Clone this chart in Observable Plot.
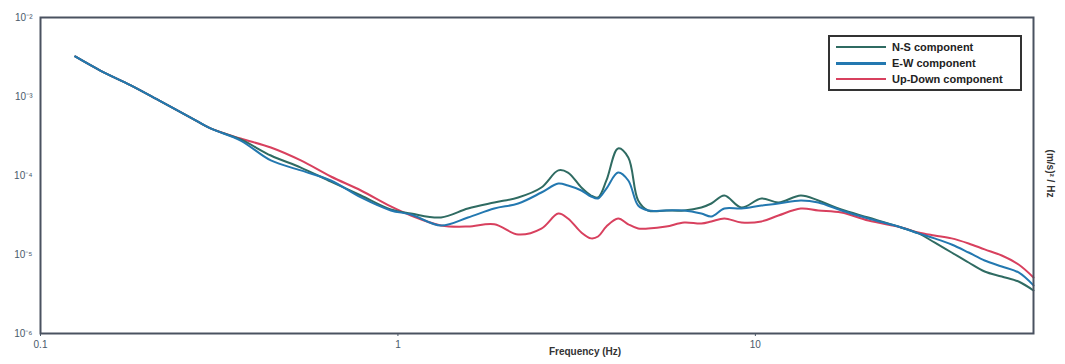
<!DOCTYPE html>
<html><head><meta charset="utf-8">
<script src="https://cdn.jsdelivr.net/npm/d3@7"></script>
<script src="https://cdn.jsdelivr.net/npm/@observablehq/plot@0.6"></script>
<style>
body{margin:0;background:#fff;font-family:"Liberation Sans",Arial,sans-serif}
#wrap{position:relative;width:1065px;height:364px;overflow:hidden}
#legend{position:absolute;left:828px;top:35px;width:190px;height:50px;border:2px solid #333;background:#fff;font-size:11px;font-weight:bold;color:#222}
#legend .row{display:flex;align-items:center;height:16px;padding-left:6px}
#legend .sw{width:50px;height:0;margin-right:6px}
#xlabel{position:absolute;left:545px;top:346px;width:80px;text-align:center;font-size:10px;font-weight:bold;color:#333}
#ylabel{position:absolute;left:1010px;top:168px;width:80px;text-align:center;font-size:10px;font-weight:bold;color:#333;transform:rotate(90deg)}
</style></head><body><div id="wrap"></div>
<script>
const frequency = [0.125,0.147,0.179,0.217,0.263,0.299,0.363,0.441,0.535,0.649,0.788,0.955,1.087,1.32,1.57,1.86,2.17,2.52,2.81,2.99,3.26,3.47,3.63,3.83,4.13,4.41,4.70,5.01,5.63,6.32,7.06,7.53,8.19,9.14,10.4,11.6,13.4,15.0,17.4,20.7,25.6,28.6,31.7,35.4,39.5,43.8,48.9,54.5,60];
const nsValues = [3.21e-3,2.13e-3,1.38e-3,8.65e-4,5.42e-4,3.94e-4,2.86e-4,1.79e-4,1.26e-4,8.39e-5,5.58e-5,3.71e-5,3.30e-5,2.94e-5,3.82e-5,4.55e-5,5.27e-5,7.05e-5,1.16e-4,1.09e-4,7.05e-5,5.58e-5,5.27e-5,8.65e-5,2.20e-4,1.69e-4,4.83e-5,3.61e-5,3.61e-5,3.61e-5,3.94e-5,4.42e-5,5.58e-5,3.94e-5,5.12e-5,4.55e-5,5.58e-5,4.83e-5,3.71e-5,2.94e-5,2.20e-5,1.85e-5,1.42e-5,1.06e-5,7.92e-6,6.09e-6,5.27e-6,4.55e-6,3.50e-6];
const ewValues = [3.21e-3,2.13e-3,1.38e-3,8.65e-4,5.42e-4,3.94e-4,2.77e-4,1.55e-4,1.16e-4,8.65e-5,5.27e-5,3.61e-5,3.21e-5,2.33e-5,2.94e-5,3.82e-5,4.42e-5,6.09e-5,7.92e-5,7.47e-5,6.46e-5,5.42e-5,5.12e-5,6.84e-5,1.09e-4,8.65e-5,4.17e-5,3.61e-5,3.61e-5,3.61e-5,3.30e-5,3.03e-5,3.82e-5,3.82e-5,4.17e-5,4.42e-5,4.83e-5,4.55e-5,3.61e-5,2.86e-5,2.20e-5,1.85e-5,1.60e-5,1.34e-5,1.06e-5,8.39e-6,7.05e-6,5.92e-6,4.06e-6];
const udValues = [3.21e-3,2.13e-3,1.38e-3,8.65e-4,5.42e-4,3.94e-4,2.94e-4,2.26e-4,1.55e-4,9.71e-5,6.46e-5,4.06e-5,3.12e-5,2.33e-5,2.26e-5,2.41e-5,1.79e-5,2.13e-5,3.30e-5,2.86e-5,1.90e-5,1.60e-5,1.69e-5,2.26e-5,2.86e-5,2.41e-5,2.13e-5,2.13e-5,2.26e-5,2.54e-5,2.47e-5,2.62e-5,2.86e-5,2.54e-5,2.62e-5,3.12e-5,3.82e-5,3.61e-5,3.40e-5,2.69e-5,2.20e-5,1.90e-5,1.74e-5,1.60e-5,1.38e-5,1.16e-5,9.71e-6,7.47e-6,5.12e-6];
const seriesNames = ["N-S component","E-W component","Up-Down component"];
const seriesColors = ["#2f6b62","#2378b0","#d8405e"];
const xTicks = [0.1, 1, 10];
const yTicks = [1e-2, 1e-3, 1e-4, 1e-5, 1e-6];
const xLabel = "Frequency (Hz)";
const yLabel = "(m/s)² / Hz";

const sup = {"-":"⁻","0":"⁰","1":"¹","2":"²","3":"³","4":"⁴","5":"⁵","6":"⁶","7":"⁷","8":"⁸","9":"⁹"};
const expFmt = d => "10" + String(Math.round(Math.log10(d))).split("").map(c => sup[c]).join("");

const data = [];
const valueSets = [nsValues, ewValues, udValues];
const drawOrder = [2, 0, 1];
for (const s of drawOrder) {
  frequency.forEach((f, i) => data.push({f, v: valueSets[s][i], series: seriesNames[s]}));
}

const chart = Plot.plot({
  width: 1065, height: 364,
  marginLeft: 40, marginRight: 32, marginTop: 17, marginBottom: 31,
  style: {fontFamily: "Liberation Sans, Arial, sans-serif", fontSize: "10px", color: "#4a5a6a", background: "#fff"},
  x: {type: "log", domain: [0.1, 60]},
  y: {type: "log", domain: [1e-6, 1e-2]},
  color: {domain: seriesNames, range: seriesColors},
  marks: [
    Plot.axisX({ticks: xTicks, tickFormat: d => String(d), tickSize: 3, tickPadding: 4, label: null}),
    Plot.axisY({ticks: yTicks, tickFormat: expFmt, tickSize: 0, tickPadding: 8, label: null}),
    Plot.line(data, {x: "f", y: "v", z: "series", stroke: "series", strokeWidth: 2, curve: "catmull-rom"}),
    Plot.frame({stroke: "#4a5260", strokeWidth: 2})
  ]
});
const wrap = document.getElementById("wrap");
wrap.appendChild(chart);

const legend = document.createElement("div");
legend.id = "legend";
legend.style.paddingTop = "2px";
seriesNames.forEach((n, i) => {
  const row = document.createElement("div");
  row.className = "row";
  const sw = document.createElement("span");
  sw.className = "sw";
  sw.style.borderTop = `${i === 1 ? 3 : 2}px solid ${seriesColors[i]}`;
  const t = document.createElement("span");
  t.textContent = n;
  row.appendChild(sw); row.appendChild(t);
  legend.appendChild(row);
});
wrap.appendChild(legend);

const xl = document.createElement("div"); xl.id = "xlabel"; xl.textContent = xLabel; wrap.appendChild(xl);
const yl = document.createElement("div"); yl.id = "ylabel"; yl.textContent = yLabel; wrap.appendChild(yl);
</script></body></html>
